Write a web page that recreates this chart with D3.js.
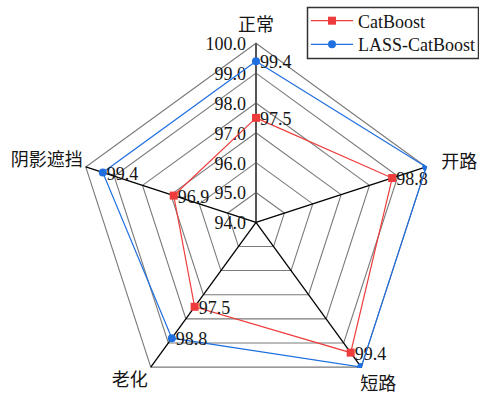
<!DOCTYPE html>
<html>
<head>
<meta charset="utf-8">
<script src="https://cdn.jsdelivr.net/npm/d3@7"></script>
<style>
  html, body { margin: 0; padding: 0; background: #fff; }
  svg { display: block; }
  text { font-family: "Times New Roman", "Liberation Serif", "Noto Sans CJK SC", serif; fill: #151515; }
</style>
</head>
<body>
<svg id="chart" width="479" height="397"></svg>
<script>
const axesNames = ["正常", "开路", "短路", "老化", "阴影遮挡"];
const catboostValues = [97.5, 98.8, 99.4, 97.5, 96.9];
const lassCatboostValues = [99.4, 100.0, 100.0, 98.8, 99.4];
const tickValues = [94, 95, 96, 97, 98, 99, 100];
const seriesNames = ["CatBoost", "LASS-CatBoost"];

const W = 479, H = 397;
const cx = 256, cy = 222.3, R = 179;
const red = "#EE3B3B", blue = "#1F6FE0";

const svg = d3.select("#chart");
const r = d3.scaleLinear().domain([94, 100]).range([0, R]);
const ang = d3.scaleLinear().domain([0, axesNames.length]).range([-Math.PI / 2, 1.5 * Math.PI]);
const pt = (i, v) => [cx + r(v) * Math.cos(ang(i)), cy + r(v) * Math.sin(ang(i))];

// clip path (outer pentagon, slightly expanded)
const clipR = d3.scaleLinear().domain([94, 100]).range([0, R + 1]);
svg.append("defs").append("clipPath").attr("id", "radarClip")
  .append("polygon")
  .attr("points", axesNames.map((d, i) => [cx + clipR(100) * Math.cos(ang(i)), cy + clipR(100) * Math.sin(ang(i))].join(",")).join(" "));

// grid rings
const grid = svg.append("g");
tickValues.filter(t => t > 94).forEach(t => {
  grid.append("polygon")
    .attr("points", axesNames.map((d, i) => pt(i, t).join(",")).join(" "))
    .attr("fill", "none").attr("stroke", "#7a7a7a").attr("stroke-width", 1.1);
});

// axis lines
axesNames.forEach((d, i) => {
  const [x, y] = pt(i, 100);
  grid.append("line")
    .attr("x1", cx).attr("y1", cy).attr("x2", x).attr("y2", y)
    .attr("stroke", i === 0 ? "#555" : "#000")
    .attr("stroke-width", i === 0 ? 2 : 1.3);
});

// tick labels along top axis
grid.selectAll("text.tick").data(tickValues).join("text")
  .attr("class", "tick")
  .attr("x", cx - 10)
  .attr("y", d => cy - r(d) + 1)
  .attr("text-anchor", "end")
  .attr("dominant-baseline", "central")
  .attr("font-size", 18)
  .text(d => d.toFixed(1));

// axis name labels
const namePlace = [
  { a: "middle", dx: 0, dy: -18 },
  { a: "start", dx: 15, dy: -5 },
  { a: "start", dx: -1, dy: 17 },
  { a: "end", dx: -3, dy: 13 },
  { a: "end", dx: -3, dy: -7 }
];
axesNames.forEach((d, i) => {
  const [x, y] = pt(i, 100);
  svg.append("text")
    .attr("x", x + namePlace[i].dx).attr("y", y + namePlace[i].dy)
    .attr("text-anchor", namePlace[i].a)
    .attr("dominant-baseline", "central")
    .attr("font-size", 18)
    .text(d);
});

// series
const series = [
  { name: seriesNames[0], values: catboostValues, color: red, shape: "square" },
  { name: seriesNames[1], values: lassCatboostValues, color: blue, shape: "circle" }
];
const line = d3.line().curve(d3.curveLinearClosed);

series.forEach(s => {
  const g = svg.append("g");
  const pts = s.values.map((v, i) => pt(i, v));
  g.append("path").attr("d", line(pts))
    .attr("fill", "none").attr("stroke", s.color).attr("stroke-width", 1.2);
  const mg = g.append("g").attr("clip-path", "url(#radarClip)");
  pts.forEach(([x, y]) => {
    if (s.shape === "square") {
      mg.append("rect").attr("x", x - 4).attr("y", y - 4).attr("width", 8).attr("height", 8).attr("fill", s.color);
    } else {
      mg.append("circle").attr("cx", x).attr("cy", y).attr("r", 4).attr("fill", s.color);
    }
  });
  s.values.forEach((v, i) => {
    if (v >= 100) return;
    const [x, y] = pt(i, v);
    g.append("text")
      .attr("x", x + 4).attr("y", y + 1)
      .attr("dominant-baseline", "central")
      .attr("font-size", 18)
      .text(v.toFixed(1));
  });
});

// legend
const lg = svg.append("g");
lg.append("rect").attr("x", 307.5).attr("y", 7.5).attr("width", 171).attr("height", 51)
  .attr("fill", "#fff").attr("stroke", "#333").attr("stroke-width", 1.5);
series.forEach((s, k) => {
  const y = 20.7 + k * 23.6;
  lg.append("line").attr("x1", 311).attr("x2", 353).attr("y1", y).attr("y2", y)
    .attr("stroke", s.color).attr("stroke-width", 1.2);
  if (s.shape === "square") {
    lg.append("rect").attr("x", 328).attr("y", y - 4).attr("width", 8).attr("height", 8).attr("fill", s.color);
  } else {
    lg.append("circle").attr("cx", 332).attr("cy", y).attr("r", 4).attr("fill", s.color);
  }
  lg.append("text").attr("x", 358).attr("y", y + 1)
    .attr("dominant-baseline", "central").attr("font-size", 18).text(s.name);
});
</script>
</body>
</html>
